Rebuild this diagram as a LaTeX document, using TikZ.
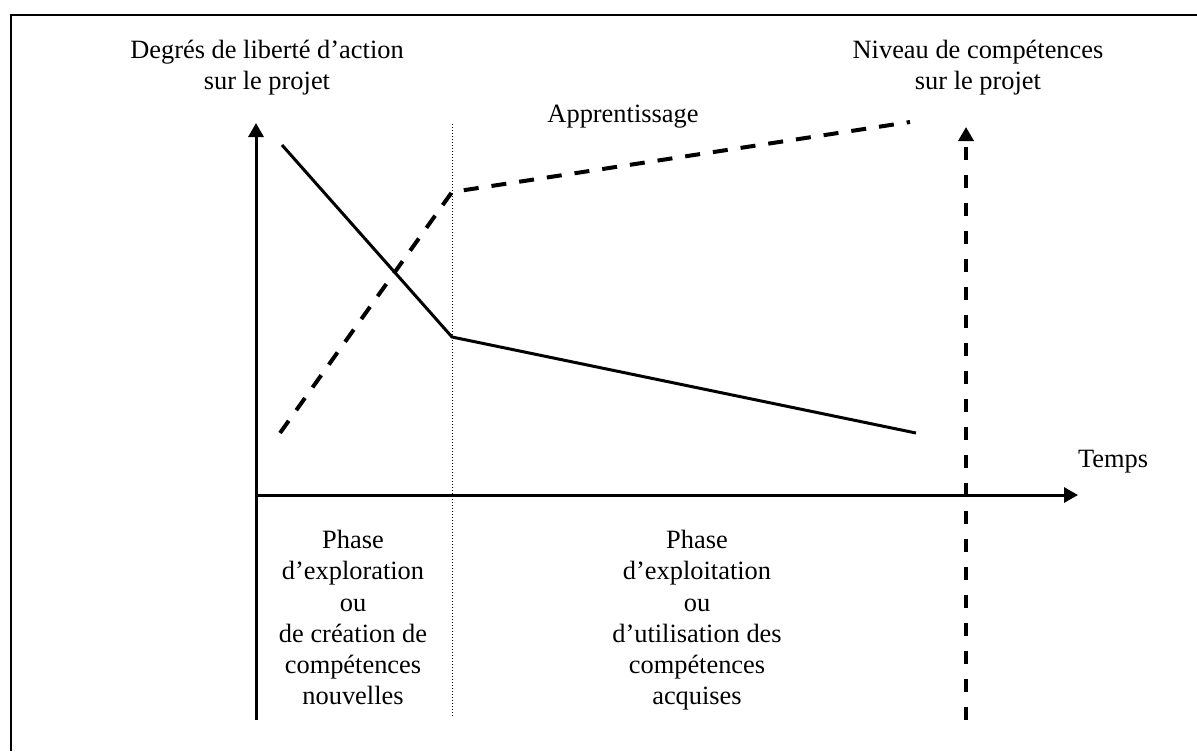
\documentclass[tikz,border=0pt]{standalone}
\usepackage{fontspec}
\setmainfont{Liberation Serif}
\usetikzlibrary{positioning,arrows.meta}
\tikzset{
    base/.style={font=\fontsize{13.2}{15.6}\selectfont, align=center, inner sep=0pt},
    heading/.style={base, anchor=north},
    phase/.style={base, anchor=north},
    tag/.style={base, anchor=base},
    axis/.style={-{Triangle[length=7pt,width=7.5pt]}, line width=1.5pt},
    frame/.style={line width=1pt},
    liberty/.style={line width=1.5pt},
    learning/.style={line width=2pt, dash pattern=on 7.5pt off 6.5pt},
    level/.style={-{Triangle[length=7pt,width=7.5pt]}, line width=2pt, dash pattern=on 6.5pt off 7.5pt},
    split/.style={line width=0.5pt, dash pattern=on 0.5pt off 1pt}
}

\begin{document}
\begin{tikzpicture}[x=0.5pt, y=-0.5pt]
  \useasboundingbox (0,0) rectangle (1197,751);

  % cadre
  \coordinate (fbot) at (11,751);
  \coordinate (fcorner) at (11,15);
  \coordinate (fright) at (1197,15);
  \draw[frame] (fbot) -- (fcorner) -- (fright);

  % axes
  \coordinate (origin) at (256,495);
  \coordinate (ybot) at (256,720);
  \coordinate (ytop) at (256,123);
  \coordinate (xend) at (1078,495);
  \draw[axis] (ybot) -- (ytop);
  \draw[axis] (origin) -- (xend);

  % separation des phases
  \coordinate (stop) at (452,124);
  \coordinate (sbot) at (452,718);
  \draw[split] (stop) -- (sbot);

  % niveau de competences
  \coordinate (lbot) at (966,720);
  \coordinate (ltop) at (966,127);
  \draw[level] (lbot) -- (ltop);

  % courbes
  \coordinate (d1) at (282,145);
  \coordinate (d2) at (452,337);
  \coordinate (d3) at (916,433);
  \draw[liberty] (d1) -- (d2) -- (d3);
  \coordinate (a1) at (280,433);
  \coordinate (a2) at (452,192);
  \coordinate (a3) at (910,122);
  \draw[learning] (a1) -- (a2) -- (a3);

  % textes
  \node[heading] (liberte) at (267,40) {Degrés de liberté d’action\\sur le projet};
  \node[heading] (niveau) at (978,40) {Niveau de compétences\\sur le projet};
  \node[tag] (appr) at (623,122) {Apprentissage};
  \node[tag] (temps) at (1113,467) {Temps};
  \node[phase] (explo) at (353,530) {Phase\\d’exploration\\ou\\de création de\\compétences\\nouvelles};
  \node[phase] (exploit) at (697,530) {Phase\\d’exploitation\\ou\\d’utilisation des\\compétences\\acquises};
\end{tikzpicture}
\end{document}
